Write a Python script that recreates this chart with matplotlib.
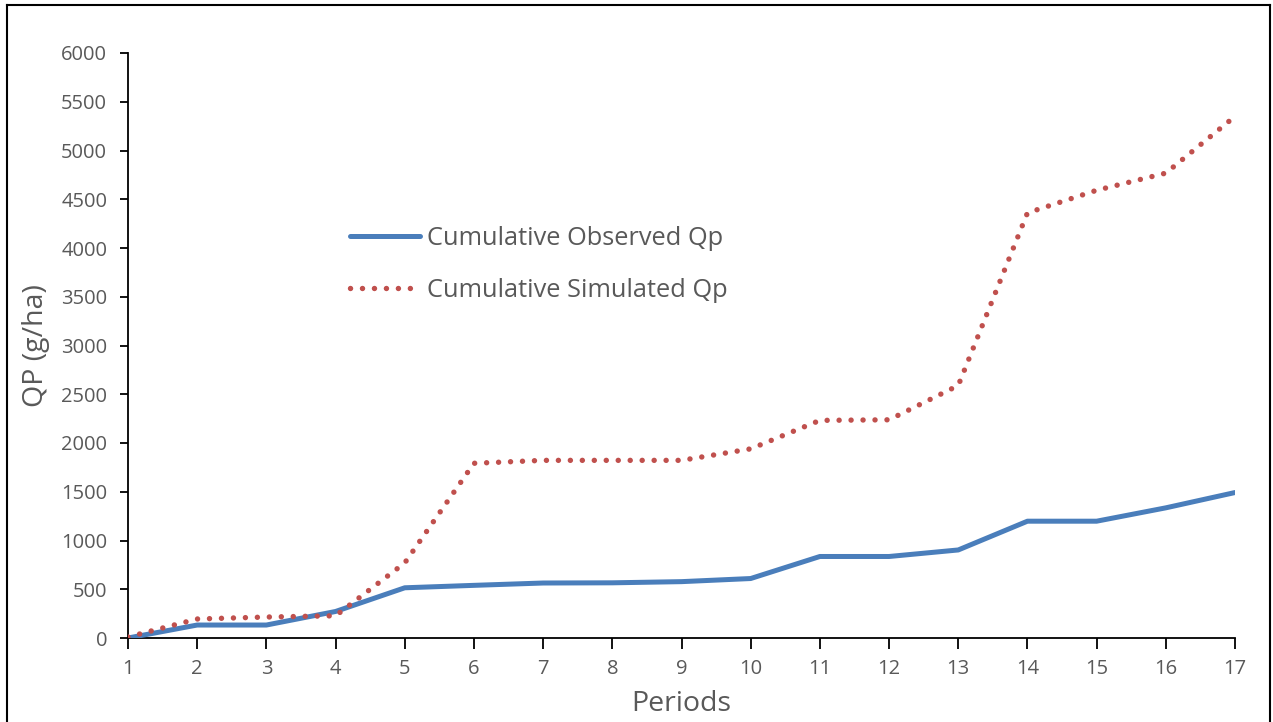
"""
Cumulative observed vs simulated Qp over periods
"""

import matplotlib

matplotlib.use("Agg")
import matplotlib.pyplot as plt
from matplotlib.lines import Line2D

periods = list(range(1, 18))
observed_qp = [0, 133, 133, 272, 515, 540, 564, 566, 578, 610, 836, 836, 903, 1198, 1198, 1335, 1492]
simulated_qp = [10, 195, 215, 228, 770, 1792, 1822, 1822, 1822, 1940, 2232, 2238, 2590, 4360, 4592, 4768, 5350]
y_ticks = list(range(0, 6001, 500))

BLUE = "#4A7EBB"
RED = "#C0504D"
GREY = "#595959"
DOTS = (0, (0.01, 2.2))

plt.rcParams["font.family"] = ["Open Sans", "DejaVu Sans"]

fig = plt.figure(figsize=(12.73, 7.22), dpi=100)
ax = fig.add_axes([128 / 1273, 1 - 638 / 722, (1235 - 128) / 1273, (638 - 53) / 722])

ax.plot(periods, observed_qp, color=BLUE, linewidth=3.6, solid_capstyle="round",
        label="Cumulative Observed Qp", zorder=3)
ax.plot(periods, simulated_qp, color=RED, linewidth=3.9, linestyle=DOTS,
        dash_capstyle="round", label="Cumulative Simulated Qp", zorder=4)

ax.set_xlim(1, 17)
ax.set_ylim(0, 6000)
ax.set_xticks(periods)
ax.set_yticks(y_ticks)
ax.tick_params(axis="both", direction="out", length=6, width=1.3, colors="black",
               labelcolor=GREY, labelsize=14.5)
ax.tick_params(axis="x", length=8, pad=7)
ax.tick_params(axis="y", pad=9)

for side in ["top", "right"]:
    ax.spines[side].set_visible(False)
for side in ["left", "bottom"]:
    ax.spines[side].set_linewidth(1.3)
    ax.spines[side].set_color("black")

ax.set_xlabel("Periods", fontsize=20.5, color=GREY, labelpad=8)
ax.set_ylabel("QP (g/ha)", fontsize=20.5, color=GREY, labelpad=8)

handles = [
    Line2D([], [], color=BLUE, linewidth=3.6, solid_capstyle="round"),
    Line2D([], [], color=RED, linewidth=3.9, linestyle=DOTS, dash_capstyle="round"),
]
fig.legend(handles, ["Cumulative Observed Qp", "Cumulative Simulated Qp"],
           loc="upper left", bbox_to_anchor=(327 / 1273, 1 - 203 / 722),
           frameon=False, fontsize=18.3, labelcolor=GREY, handlelength=2.75,
           handletextpad=0.3, labelspacing=1.05)

# outer frame (left, top, right edges of the picture)
for xs, ys in [([7 / 1273, 7 / 1273], [0, 1 - 5 / 722]),
               ([7 / 1273, 1270 / 1273], [1 - 5 / 722, 1 - 5 / 722]),
               ([1270 / 1273, 1270 / 1273], [0, 1 - 5 / 722])]:
    fig.add_artist(Line2D(xs, ys, transform=fig.transFigure, color="black", linewidth=1.5))

fig.savefig("out.png", dpi=100)
